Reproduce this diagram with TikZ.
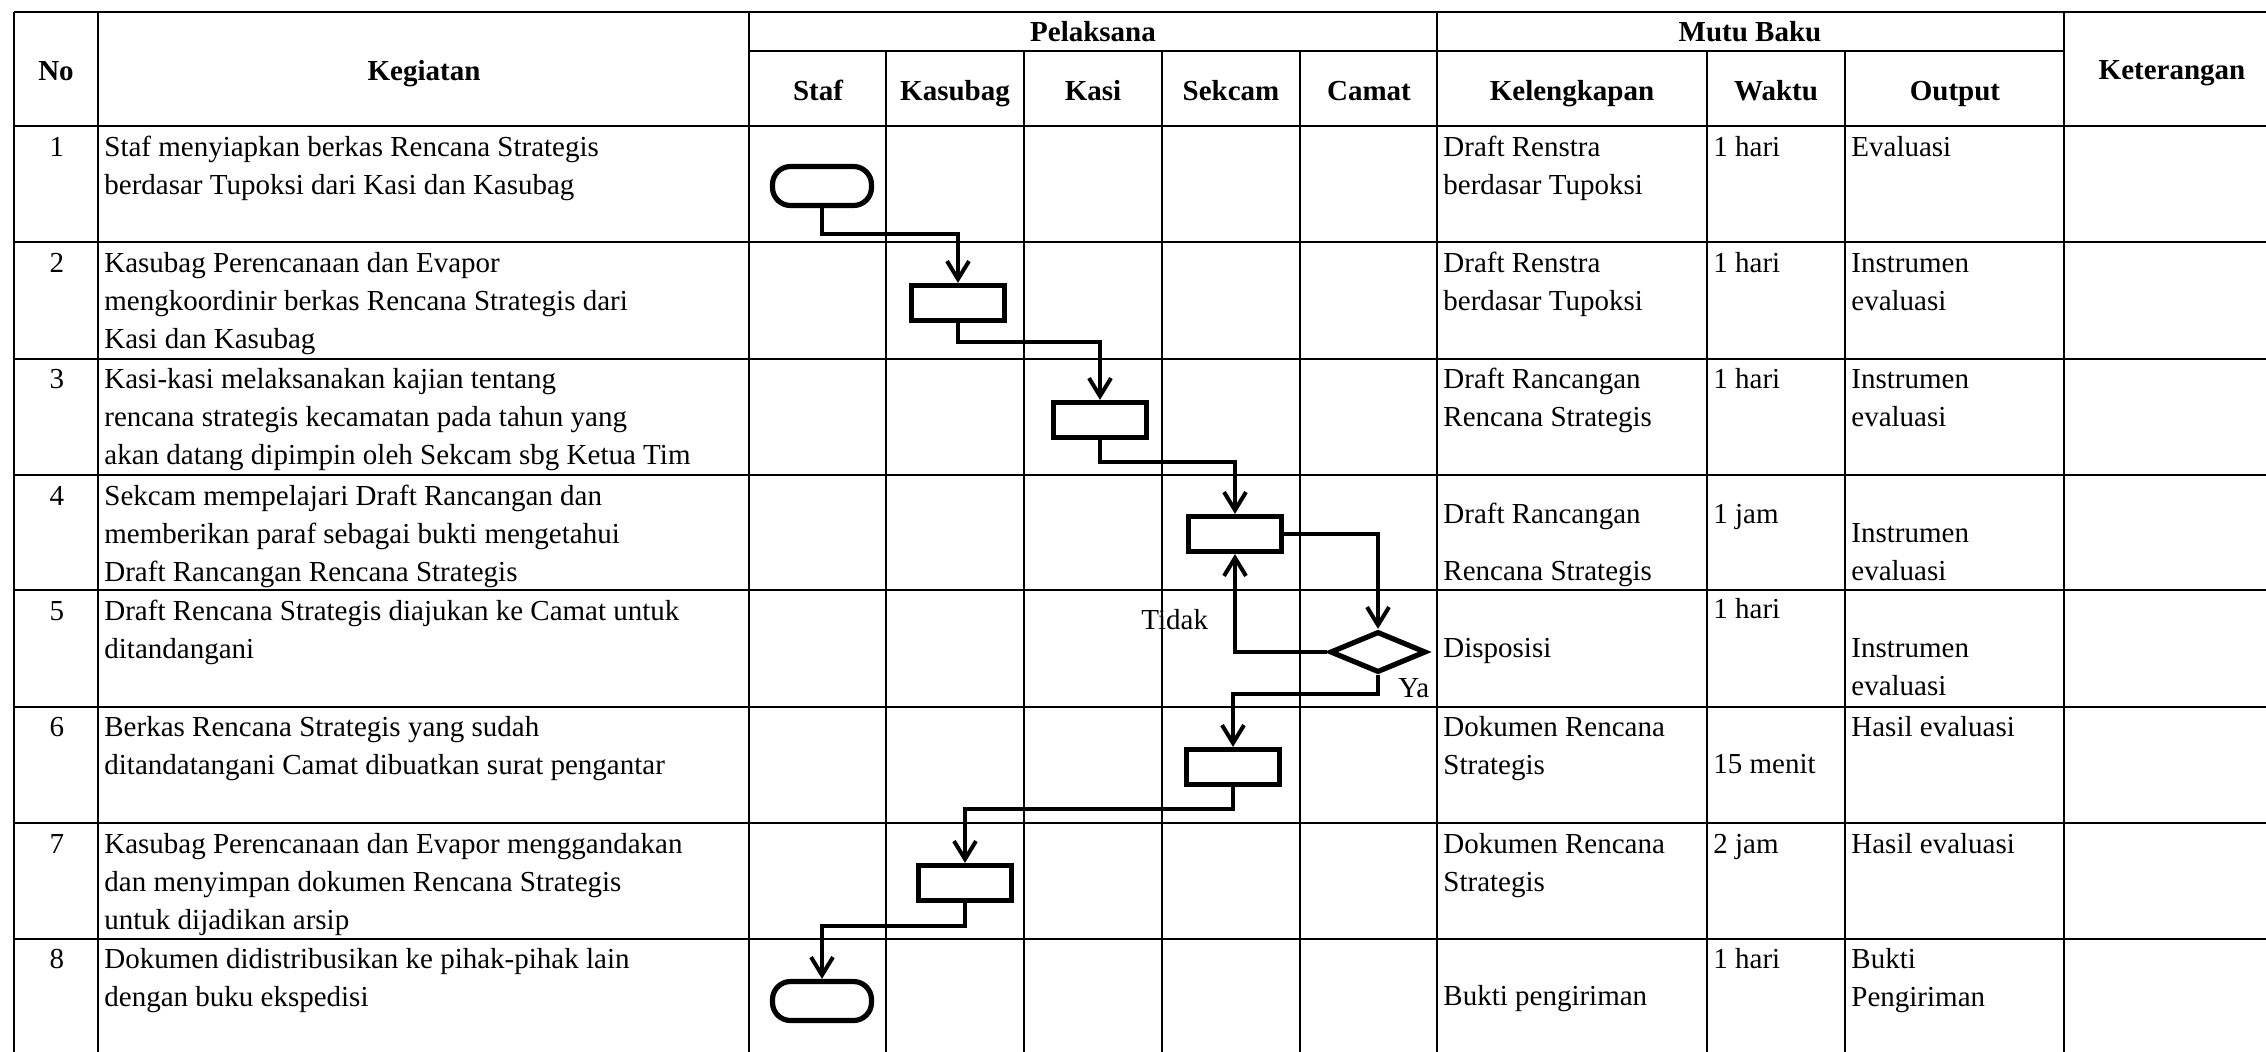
\documentclass[tikz,border=0pt]{standalone}
\usepackage{fontspec}
\setmainfont{Liberation Serif}
\usetikzlibrary{shapes.geometric,arrows.meta}
\newcommand{\cellfont}{\fontsize{14.5}{19}\selectfont}
% one text line per node, #1 = line distance
\newcommand{\celltxt}[5][38]{
  \foreach \tx [count=\idx] in {#5} {
    \node[txt] (#2-\idx) at (#3,{#4+#1*(\idx-1)}) {\tx};
  }
}
\tikzset{
  tabline/.style={line width=1.2pt},
  txt/.style={anchor=base west,inner sep=0pt,font=\cellfont},
  num/.style={txt,anchor=base},
  hd/.style={num,font=\cellfont\bfseries},
  proc/.style={draw,fill=white,line width=2.6pt,inner sep=0pt,minimum width=46.5pt,minimum height=17.5pt},
  term/.style={proc,rounded corners=9pt,minimum width=49.5pt,minimum height=19.5pt},
  dec/.style={proc,diamond,minimum width=48pt,minimum height=20.5pt},
  flow/.style={line width=2pt,-{Straight Barb[length=9pt,width=11pt]}}
}

\begin{document}
\begin{tikzpicture}[x=0.5pt,y=-0.5pt]
\useasboundingbox (0,0) rectangle (2266,1051);
\clip (0,0) rectangle (2266,1051);
% table lines
\foreach \y in {12,126,242,359,475,590,707,823,939,1056}
  \draw[tabline] (14,\y) -- (2282,\y);
\draw[tabline] (749,51) -- (2064,51);
\foreach \x in {14,98,749,1437,2064,2282}
  \draw[tabline] (\x,12) -- (\x,1056);
\foreach \x in {886,1024,1162,1300,1707,1845}
  \draw[tabline] (\x,51) -- (\x,1056);
% header
\node[hd] (hno) at (56,80) {No};
\node[hd] (hkeg) at (424,80) {Kegiatan};
\node[hd] (hpel) at (1093,41) {Pelaksana};
\node[hd] (hmutu) at (1750,41) {Mutu Baku};
\node[hd] (hket) at (2172,79) {Keterangan};
\foreach \x/\n/\s in {818/staf/Staf,955/kasubag/Kasubag,1093/kasi/Kasi,1231/sekcam/Sekcam,1369/camat/Camat,1572/kel/Kelengkapan,1776/waktu/Waktu,1955/output/Output}
  \node[hd] (h\n) at (\x,100) {\s};
% numbers
\foreach \i/\y in {1/156,2/272,3/388,4/505,5/620,6/736,7/853,8/968}
  \node[num] (no\i) at (57,\y) {\i};
% rows
\celltxt{keg1}{104}{156}{Staf menyiapkan berkas Rencana Strategis,berdasar Tupoksi dari Kasi dan Kasubag}
\celltxt{kel1}{1443}{156}{Draft Renstra,berdasar Tupoksi}
\celltxt{wkt1}{1713}{156}{1 hari}
\celltxt{out1}{1851}{156}{Evaluasi}
\celltxt{keg2}{104}{272}{Kasubag Perencanaan dan Evapor,mengkoordinir berkas Rencana Strategis dari,Kasi dan Kasubag}
\celltxt{kel2}{1443}{272}{Draft Renstra,berdasar Tupoksi}
\celltxt{wkt2}{1713}{272}{1 hari}
\celltxt{out2}{1851}{272}{Instrumen,evaluasi}
\celltxt{keg3}{104}{388}{Kasi-kasi melaksanakan kajian tentang,rencana strategis kecamatan pada tahun yang,akan datang dipimpin oleh Sekcam sbg Ketua Tim}
\celltxt{kel3}{1443}{388}{Draft Rancangan,Rencana Strategis}
\celltxt{wkt3}{1713}{388}{1 hari}
\celltxt{out3}{1851}{388}{Instrumen,evaluasi}
\celltxt{keg4}{104}{505}{Sekcam mempelajari Draft Rancangan dan,memberikan paraf sebagai bukti mengetahui,Draft Rancangan Rencana Strategis}
\celltxt[57]{kel4}{1443}{523}{Draft Rancangan,Rencana Strategis}
\celltxt{wkt4}{1713}{523}{1 jam}
\celltxt{out4}{1851}{542}{Instrumen,evaluasi}
\celltxt{keg5}{104}{620}{Draft Rencana Strategis diajukan ke Camat untuk,ditandangani}
\celltxt{kel5}{1443}{657}{Disposisi}
\celltxt{wkt5}{1713}{618}{1 hari}
\celltxt{out5}{1851}{657}{Instrumen,evaluasi}
\celltxt{keg6}{104}{736}{Berkas Rencana Strategis yang sudah,ditandatangani Camat dibuatkan surat pengantar}
\celltxt{kel6}{1443}{736}{Dokumen Rencana,Strategis}
\celltxt{wkt6}{1713}{773}{15 menit}
\celltxt{out6}{1851}{736}{Hasil evaluasi}
\celltxt{keg7}{104}{853}{Kasubag Perencanaan dan Evapor menggandakan,dan menyimpan dokumen Rencana Strategis,untuk dijadikan arsip}
\celltxt{kel7}{1443}{853}{Dokumen Rencana,Strategis}
\celltxt{wkt7}{1713}{853}{2 jam}
\celltxt{out7}{1851}{853}{Hasil evaluasi}
\celltxt{keg8}{104}{968}{Dokumen didistribusikan ke pihak-pihak lain,dengan buku ekspedisi}
\celltxt{kel8}{1443}{1005}{Bukti pengiriman}
\celltxt{wkt8}{1713}{968}{1 hari}
\celltxt{out8}{1851}{968}{Bukti,Pengiriman}
% flow shapes
\node[term] (t1) at (822,186) {};
\node[proc] (b2) at (958,303) {};
\node[proc] (b3) at (1100,420) {};
\node[proc] (b4) at (1235,534) {};
\node[dec] (d5) at (1378,652) {};
\node[proc] (b6) at (1233,767) {};
\node[proc] (b7) at (965,883) {};
\node[term] (t8) at (822,1001) {};
% connectors
\draw[flow] (t1.south) -- ++(0,26) -| (b2.north);
\draw[flow] (b2.south) -- ++(0,19) -| (b3.north);
\draw[flow] (b3.south) -- ++(0,22) -| (b4.north);
\draw[flow] (b4.east) -| (d5.north);
\draw[flow] (d5.west) -| (b4.south);
\node[txt] (tidak) at (1141,629) {Tidak};
\draw[flow] (d5.south) -- ++(0,19) -| (b6.north);
\node[txt] (ya) at (1398,697) {Ya};
\draw[flow] (b6.south) -- ++(0,22) -| (b7.north);
\draw[flow] (b7.south) -- ++(0,23) -| (t8.north);
\end{tikzpicture}
\end{document}
